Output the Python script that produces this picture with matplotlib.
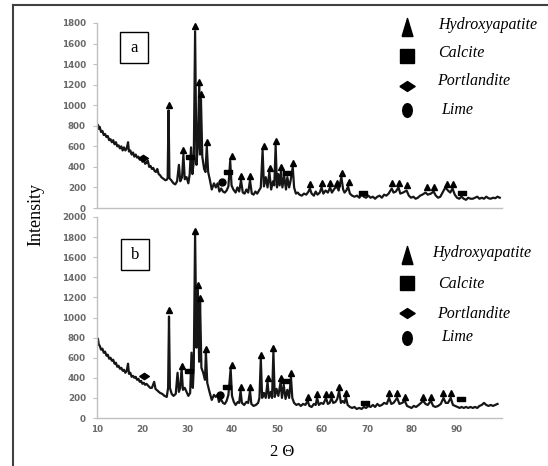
import matplotlib
matplotlib.use("Agg")
import matplotlib.pyplot as plt

# ---- panel a : XRD trace (2 theta, intensity) ----
tt_a = [10.0, 10.2, 10.4, 10.6, 10.9, 11.2, 11.5, 11.8, 12.1, 12.4,
        12.7, 13.0, 13.3, 13.6, 13.9, 14.2, 14.5, 14.8, 15.1, 15.4,
        15.7, 16.0, 16.3, 16.6, 16.9, 17.1, 17.4, 17.7, 18.0, 18.3,
        18.6, 18.9, 19.2, 19.5, 19.8, 20.1, 20.4, 20.7, 21.0, 21.3,
        21.6, 21.9, 22.2, 22.5, 22.8, 23.1, 23.4, 23.7, 24.0, 24.3,
        24.6, 24.9, 25.2, 25.5, 25.7, 25.9, 26.1,
        26.5, 27.0, 27.4, 27.8, 28.2, 28.5, 28.9, 29.2, 29.5, 29.9,
        30.3, 30.6, 30.9, 31.2, 31.5, 31.8, 32.1, 32.4, 32.7, 32.9,
        33.1, 33.4, 33.8, 34.1, 34.4, 34.7, 35.1, 35.5, 36.0, 36.4,
        36.8, 37.2, 37.6, 38.0, 38.4, 38.8, 39.2, 39.6, 39.9, 40.3,
        40.8, 41.2, 41.6, 42.0, 42.4, 42.8, 43.2, 43.6, 44.0, 44.4,
        44.8, 45.2, 45.6, 46.0, 46.4, 46.8, 47.1, 47.5, 47.9, 48.3,
        48.7, 49.1, 49.4, 49.7, 50.0, 50.3, 50.6, 50.9, 51.2, 51.6,
        52.0, 52.3, 52.7, 53.0, 53.5, 53.8, 54.2, 54.6, 55.0, 55.5,
        56.0, 56.5, 57.0, 57.3, 57.7, 58.2, 58.6, 59.0, 59.5, 59.9,
        60.3, 60.8, 61.3, 61.8, 62.2, 62.8, 63.3, 63.7, 64.3, 64.7,
        65.0, 65.4, 65.8, 66.2, 66.7, 67.2, 67.8, 68.3, 68.8, 69.3,
        69.8, 70.3, 70.8, 71.3, 71.8, 72.3, 72.8, 73.3, 73.8, 74.3,
        74.8, 75.5, 75.9, 76.4, 77.0, 77.4, 78.0, 78.8, 79.3, 79.8,
        80.3, 80.8, 81.3, 81.8, 82.3, 83.0, 83.5, 84.2, 84.8, 85.3,
        85.8, 86.3, 86.8, 87.4, 88.0, 88.5, 89.0, 89.5, 90.0, 90.5,
        91.0, 91.5, 92.0, 92.5, 93.0, 93.5, 94.0, 94.5, 95.0, 95.5,
        96.0, 96.5, 97.0, 97.5, 98.0, 98.5, 99.0, 99.5]
int_a = [790, 810, 770, 790, 740, 750, 710, 720, 690, 700,
         660, 670, 640, 660, 620, 640, 600, 610, 580, 600,
         560, 590, 560, 580, 640, 550, 560, 520, 540, 500,
         520, 490, 500, 470, 480, 450, 470, 430, 440, 460,
         400, 410, 380, 390, 360, 350, 380, 330, 320, 300,
         290, 280, 270, 275, 290, 950, 290,
         270, 240, 230, 260, 420, 260, 300, 520, 280, 300,
         240, 330, 590, 330, 450, 1720, 420, 600, 1190, 520,
         1060, 500, 380, 350, 600, 350, 270, 180, 240, 200,
         240, 160, 190, 160, 150, 170, 210, 460, 220, 180,
         150, 200, 160, 270, 150, 140, 180, 150, 270, 140,
         130, 160, 140, 170, 200, 560, 210, 300, 200, 350,
         180, 260, 220, 610, 200, 330, 220, 360, 200, 310,
         180, 300, 200, 260, 400, 200, 140, 150, 130, 120,
         140, 130, 160, 190, 140, 120, 160, 130, 150, 200,
         140, 170, 150, 200, 150, 190, 210, 170, 300, 180,
         150, 170, 210, 140, 120, 110, 120, 100, 130, 110,
         100, 120, 100, 110, 90, 110, 120, 100, 130, 120,
         140, 190, 150, 160, 200, 140, 150, 170, 120, 100,
         110, 90, 100, 120, 130, 150, 130, 140, 160, 120,
         100, 110, 150, 200, 170, 150, 190, 130, 100, 90,
         110, 90, 80, 100, 90, 90, 100, 110, 90, 100,
         90, 110, 95, 90, 100, 95, 110, 100]

# ---- panel b ----
tt_b = [10.0, 10.2, 10.4, 10.6, 10.9, 11.2, 11.5, 11.8, 12.1, 12.4,
        12.7, 13.0, 13.3, 13.6, 13.9, 14.2, 14.5, 14.8, 15.1, 15.4,
        15.7, 16.0, 16.3, 16.6, 16.9, 17.1, 17.4, 17.7, 18.0, 18.3,
        18.6, 18.9, 19.2, 19.5, 19.8, 20.1, 20.4, 20.7, 21.0, 21.4,
        21.8, 22.2, 22.7, 23.0, 23.5, 24.0, 24.5, 25.0, 25.5, 25.8,
        26.0, 26.2, 26.6,
        27.0, 27.5, 27.9, 28.2, 28.5, 28.8, 29.1, 29.5, 29.9, 30.3,
        30.7, 31.0, 31.3, 31.5, 31.8, 32.1, 32.4, 32.7, 32.9, 33.2,
        33.6, 34.0, 34.2, 34.5, 35.0, 35.5, 36.0, 36.4, 36.8, 37.1,
        37.5, 38.0, 38.4, 38.8, 39.2, 39.7, 40.0, 40.4, 40.8, 41.3,
        41.6, 41.9, 42.2, 42.7, 43.2, 43.6, 44.0, 44.3, 44.8, 45.3,
        45.8, 46.1, 46.4, 46.7, 47.1, 47.5, 47.9, 48.2, 48.6, 48.9,
        49.2, 49.5, 49.9, 50.3, 50.8, 51.1, 51.5, 51.9, 52.3, 52.7,
        53.1, 53.4, 53.8, 54.3, 54.8, 55.3, 55.8, 56.3, 56.8, 57.2,
        57.7, 58.2, 58.6, 58.9, 59.3, 59.8, 60.3, 60.9, 61.3, 61.7,
        62.1, 62.5, 63.0, 63.4, 63.8, 64.2, 64.6, 65.0, 65.3, 65.7,
        66.2, 66.7, 67.2, 67.7, 68.3, 68.8, 69.3, 69.8, 70.3, 70.8,
        71.3, 71.8, 72.3, 72.8, 73.3, 73.8, 74.4, 74.9, 75.4, 75.9,
        76.7, 77.2, 77.8, 78.4, 78.9, 79.4, 79.9, 80.4, 80.9, 81.5,
        82.0, 82.5, 83.0, 83.5, 84.2, 84.7, 85.2, 85.8, 86.4, 87.0,
        87.5, 88.0, 88.6, 89.1, 89.6, 90.1, 90.6, 91.0, 91.5, 92.0,
        92.5, 93.0, 93.5, 94.0, 94.5, 95.0, 95.5, 96.0, 96.5, 97.0,
        97.5, 98.0, 98.5, 99.0]
int_b = [740, 790, 730, 720, 680, 690, 650, 660, 620, 630,
         590, 600, 570, 580, 540, 550, 510, 520, 490, 500,
         470, 480, 450, 470, 540, 440, 450, 410, 420, 400,
         410, 380, 390, 360, 370, 340, 350, 330, 340, 320,
         300, 300, 360, 290, 270, 250, 240, 220, 210, 300,
         1010, 300, 240,
         220, 240, 450, 260, 300, 490, 280, 300, 260, 220,
         250, 650, 300, 500, 1840, 700, 1290, 560, 1170, 500,
         450, 380, 660, 350, 260, 180, 230, 210, 230, 160,
         190, 150, 140, 170, 230, 490, 220, 160, 130, 160,
         150, 270, 150, 130, 160, 150, 270, 140, 120, 130,
         150, 200, 590, 200, 250, 200, 360, 200, 260, 200,
         660, 210, 290, 220, 360, 200, 330, 190, 280, 200,
         410, 200, 150, 130, 140, 120, 140, 130, 170, 120,
         110, 140, 130, 200, 130, 150, 140, 200, 140, 150,
         200, 150, 160, 190, 270, 150, 170, 150, 210, 130,
         110, 100, 110, 90, 100, 90, 110, 100, 120, 110,
         130, 110, 140, 120, 130, 150, 140, 200, 140, 150,
         200, 140, 150, 170, 120, 110, 100, 120, 110, 130,
         150, 170, 140, 130, 170, 120, 110, 120, 140, 200,
         150, 150, 200, 130, 120, 110, 100, 110, 100, 110,
         100, 110, 100, 110, 100, 120, 130, 150, 130, 120,
         130, 120, 130, 140]

# ---- phase markers (2 theta, intensity) ----
hap_a_x = [25.9, 29.2, 31.8, 32.7, 33.2, 34.4, 40.1, 42.1, 44.1, 47.0, 48.4, 49.8, 50.8,
           53.6, 57.3, 59.9, 61.8, 63.3, 64.4, 65.9, 75.5, 77.2, 79.0, 83.3, 85.0, 87.7, 89.2]
hap_a_y = [1000, 560, 1770, 1230, 1110, 640, 510, 310, 310, 600, 390, 650, 400,
           440, 230, 240, 240, 240, 340, 250, 240, 240, 220, 200, 200, 230, 230]
cal_a_x = [30.6, 39.1, 52.3, 69.2, 91.2]
cal_a_y = [500, 350, 340, 145, 150]
por_a_x = [20.3]
por_a_y = [490]
lim_a_x = [37.8]
lim_a_y = [250]

hap_b_x = [26.0, 28.9, 31.8, 32.4, 32.9, 34.2, 39.9, 41.9, 44.0, 46.4, 47.9, 49.2, 50.8,
           53.1, 56.8, 58.9, 60.9, 62.1, 63.8, 65.3, 74.9, 76.7, 78.4, 82.5, 84.2, 87.0, 88.6]
hap_b_y = [1075, 520, 1860, 1320, 1190, 690, 530, 310, 310, 630, 400, 700, 400,
           450, 210, 240, 240, 240, 310, 245, 245, 245, 212, 212, 212, 245, 245]
cal_b_x = [30.5, 39.0, 51.8, 69.6, 91.0]
cal_b_y = [470, 310, 365, 150, 190]
por_b_x = [20.5]
por_b_y = [420]
lim_b_x = [37.3]
lim_b_y = [230]

phases = ["Hydroxyapatite", "Calcite", "Portlandite", "Lime"]
xticks = [10, 20, 30, 40, 50, 60, 70, 80, 90]

bar = [(-1, -0.45), (1, -0.45), (1, 0.45), (-1, 0.45), (-1, -0.45)]
flat_diamond = [(-1, 0), (0, 0.65), (1, 0), (0, -0.65), (-1, 0)]
tall_tri = [(-0.6, -1), (0.6, -1), (0, 1), (-0.6, -1)]
tall_oval = [(0.7 * c, s) for c, s in
             [(1, 0), (0.87, 0.5), (0.5, 0.87), (0, 1), (-0.5, 0.87), (-0.87, 0.5),
              (-1, 0), (-0.87, -0.5), (-0.5, -0.87), (0, -1), (0.5, -0.87), (0.87, -0.5), (1, 0)]]

fig = plt.figure(figsize=(5.48, 4.66), dpi=100)
W, H = 548, 466


def px_axes(l, t, r, b):
    return fig.add_axes([l / W, 1 - b / H, (r - l) / W, (b - t) / H])


def style(ax, ymax, xlabels):
    ax.set_xlim(10, 100)
    ax.set_ylim(0, ymax)
    ax.set_yticks(range(0, ymax + 1, 200))
    ax.set_xticks(xticks)
    for s in ["top", "right"]:
        ax.spines[s].set_visible(False)
    for s in ["left", "bottom"]:
        ax.spines[s].set_color("#c0c0c0")
        ax.spines[s].set_linewidth(1.0)
    ax.tick_params(axis="y", length=3, color="#c0c0c0", pad=5,
                   labelsize=6.3, labelcolor="#6a6a6a")
    ax.tick_params(axis="x", length=0, pad=5, labelsize=6.3,
                   labelcolor="#6a6a6a", labelbottom=xlabels)
    for lab in ax.get_xticklabels() + ax.get_yticklabels():
        lab.set_fontweight("bold")
    ax.patch.set_visible(False)


def draw(ax, tt, it, hx, hy, cx, cy, px_, py_, lx, ly):
    ax.plot(tt, it, color="#161616", lw=1.6, solid_joinstyle="round")
    ax.plot(hx, hy, ls="none", marker="^", ms=5, color="black", clip_on=False)
    ax.plot(cx, cy, ls="none", marker=bar, ms=6, color="black", clip_on=False)
    ax.plot(px_, py_, ls="none", marker=flat_diamond, ms=7, color="black", clip_on=False)
    ax.plot(lx, ly, ls="none", marker="o", ms=5, color="black", clip_on=False)


ax_a = px_axes(97, 23, 502, 208)
style(ax_a, 1800, False)
draw(ax_a, tt_a, int_a, hap_a_x, hap_a_y, cal_a_x, cal_a_y,
     por_a_x, por_a_y, lim_a_x, lim_a_y)

ax_b = px_axes(97, 217, 502, 418)
style(ax_b, 2000, True)
draw(ax_b, tt_b, int_b, hap_b_x, hap_b_y, cal_b_x, cal_b_y,
     por_b_x, por_b_y, lim_b_x, lim_b_y)

# overlay in pixel coordinates for frame, labels and legends
ov = fig.add_axes([0, 0, 1, 1])
ov.set_xlim(0, W)
ov.set_ylim(H, 0)
ov.axis("off")
ov.patch.set_visible(False)

ov.plot([13, 13], [5, H], color="#404040", lw=1.5)
ov.plot([13, W], [5, 5], color="#404040", lw=1.5)

serif = "Liberation Serif"
ov.text(36, 215, "Intensity", rotation=90, ha="center", va="center",
        fontsize=13, family=serif)
ov.text(282, 452, "2 \u0398", ha="center", va="center", fontsize=12, family=serif)

for lbl, (l, t) in [("a", (120, 32)), ("b", (121, 239))]:
    ov.add_patch(plt.Rectangle((l, t), 28, 31, fill=False, ec="black", lw=1.0))
    ov.text(l + 14, t + 16, lbl, ha="center", va="center", fontsize=12, family=serif)

legend_rows = {
    "a": ([27, 56, 86, 110], [25, 53, 81, 110]),
    "b": ([255, 283, 313, 338], [253, 284, 314, 337]),
}
text_left = [438, 438, 437, 441]
for key, (my, ty) in legend_rows.items():
    ov.plot(407, my[0], marker=tall_tri, ms=13, color="black", ls="none")
    ov.plot(407, my[1], marker="s", ms=9.5, color="black", ls="none")
    ov.plot(407, my[2], marker=flat_diamond, ms=11, color="black", ls="none")
    ov.plot(407, my[3], marker=tall_oval, ms=10, color="black", ls="none")
    for name, y, x0 in zip(phases, ty, text_left):
        ov.text(x0 - (6 if (key == "b" and name == "Hydroxyapatite") else 0), y, name,
                ha="left", va="center", fontsize=11.5, family=serif, style="italic")

fig.savefig("out.png", dpi=100)
